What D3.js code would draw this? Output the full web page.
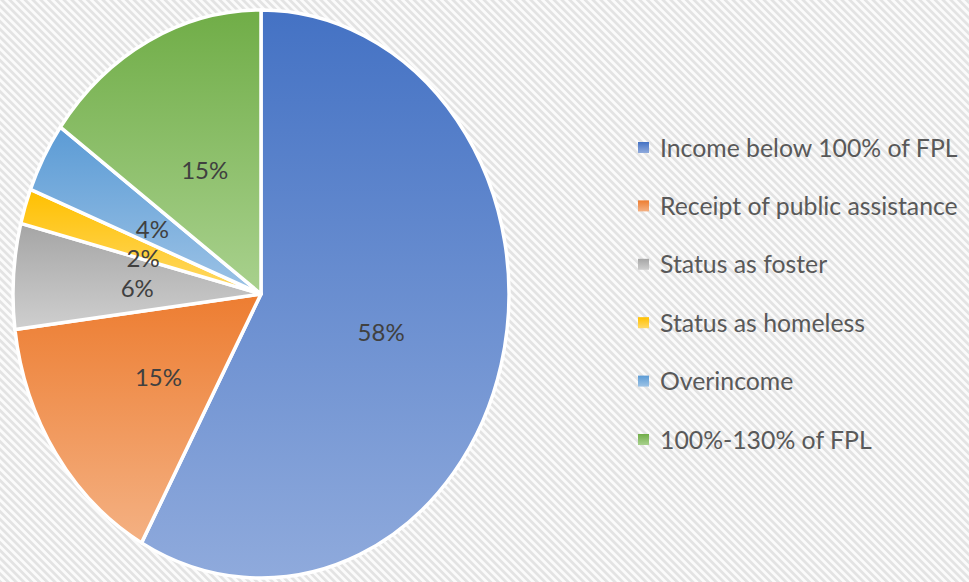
<!DOCTYPE html>
<html>
<head>
<meta charset="utf-8">
<script src="https://cdn.jsdelivr.net/npm/d3@7"></script>
<style>
  html, body { margin: 0; padding: 0; background: #fff; }
  svg { display: block; }
</style>
</head>
<body>
<div id="chart"></div>
<script>
// data
let categories = ["Income below 100% of FPL", "Receipt of public assistance", "Status as foster",
                  "Status as homeless", "Overincome", "100%-130% of FPL"];
let values = [58, 15, 6, 2, 4, 15];
let colorsTop = ["#4472C4", "#ED7D31", "#A5A5A5", "#FFC000", "#5B9BD5", "#70AD47"];
let colorsBottom = ["#8FAADC", "#F4B183", "#CFCFCF", "#FFD966", "#9DC3E6", "#A9D18E"];

let width = 969, height = 582;
let cx = 261, cy = 294, rx = 248, ry = 284;

let svg = d3.select("#chart").append("svg")
    .attr("width", width)
    .attr("height", height);

let defs = svg.append("defs");

// diagonal stripe background
let pat = defs.append("pattern")
    .attr("id", "stripes")
    .attr("width", 5.5).attr("height", 5.5)
    .attr("patternUnits", "userSpaceOnUse")
    .attr("patternTransform", "rotate(-45)");
pat.append("rect").attr("width", 5.5).attr("height", 5.5).attr("fill", "#fbfbfb");
pat.append("rect").attr("width", 2.7).attr("height", 5.5).attr("fill", "#e3e3e3");

svg.append("rect").attr("width", width).attr("height", height).attr("fill", "url(#stripes)");

// gradients for slices
categories.forEach(function (c, i) {
    let g = defs.append("linearGradient")
        .attr("id", "grad" + i)
        .attr("x1", 0).attr("y1", 0).attr("x2", 0).attr("y2", 1);
    g.append("stop").attr("offset", "0%").attr("stop-color", colorsTop[i]);
    g.append("stop").attr("offset", "100%").attr("stop-color", colorsBottom[i]);
});

let pie = d3.pie().sort(null).value(function (d) { return d; });
let arcs = pie(values);

let arc = d3.arc().innerRadius(0).outerRadius(ry);
let labelArc = d3.arc().innerRadius(ry * 0.5).outerRadius(ry * 0.5);

let pieG = svg.append("g")
    .attr("transform", "translate(" + cx + "," + cy + ") scale(" + (rx / ry) + ",1)");

pieG.selectAll("path")
    .data(arcs)
    .enter()
    .append("path")
    .attr("d", arc)
    .attr("fill", function (d, i) { return "url(#grad" + i + ")"; })
    .attr("stroke", "#fff")
    .attr("stroke-width", 3.5)
    .attr("stroke-linejoin", "round")
    .attr("vector-effect", "non-scaling-stroke");

// labels (drawn unscaled); very thin slices get pushed down a little
svg.append("g").selectAll("text")
    .data(arcs)
    .enter()
    .append("text")
    .attr("x", function (d) { return cx + labelArc.centroid(d)[0] * rx / ry; })
    .attr("y", function (d) {
        let y = cy + labelArc.centroid(d)[1];
        return d.value < 3 ? y + 5 : y;
    })
    .attr("text-anchor", "middle")
    .attr("dy", "0.5em")
    .attr("font-family", "Lato, 'Open Sans', sans-serif")
    .attr("font-size", 24)
    .attr("fill", "#404040")
    .text(function (d) { return d.value + "%"; });

// legend
let legend = svg.append("g").attr("transform", "translate(638,148)");
let rows = legend.selectAll("g")
    .data(categories)
    .enter()
    .append("g")
    .attr("transform", function (d, i) { return "translate(0," + (i * 58.4) + ")"; });

rows.append("rect")
    .attr("x", 0).attr("y", -6)
    .attr("width", 11).attr("height", 11)
    .attr("fill", function (d, i) { return "url(#grad" + i + ")"; });

rows.append("text")
    .attr("x", 22)
    .attr("dy", "0.35em")
    .attr("font-family", "Lato, 'Open Sans', sans-serif")
    .attr("font-size", 24.8)
    .attr("fill", "#595959")
    .text(function (d) { return d; });
</script>
</body>
</html>
